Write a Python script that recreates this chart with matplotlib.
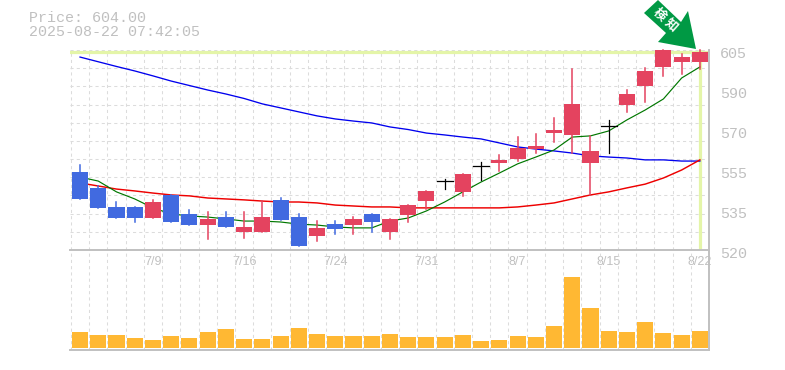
import matplotlib
matplotlib.use('Agg')
import matplotlib.pyplot as plt
from matplotlib.patches import Polygon, Rectangle
from matplotlib.ticker import FixedLocator

# daily candles, oldest first
opens = [553.2, 546.4, 538.3, 538.3, 533.6, 543.4, 535.3, 530.6, 534.0, 527.6, 527.6, 541.3,
         534.0, 526.0, 531.0, 530.6, 535.3, 527.6, 534.9, 540.8, 549.3, 544.7, 555.3, 557.0,
         558.7, 562.9, 569.7, 568.9, 557.0, 572.3, 581.6, 589.7, 597.8, 599.9, 599.9]
highs = [556.1, 547.2, 540.4, 538.3, 541.3, 543.4, 537.0, 536.2, 536.2, 536.2, 540.8, 542.1,
         535.3, 532.3, 532.3, 534.0, 535.3, 533.2, 539.1, 545.1, 550.2, 552.3, 557.4, 560.4,
         568.0, 569.3, 576.1, 596.9, 568.5, 575.3, 588.0, 597.4, 605.0, 603.3, 605.0]
lows = [541.7, 537.9, 533.6, 531.9, 533.6, 531.9, 530.6, 524.7, 529.8, 525.0, 527.6, 532.8,
        521.7, 523.8, 526.8, 526.8, 527.7, 524.7, 531.9, 537.4, 545.9, 543.0, 549.9, 553.6,
        557.8, 561.2, 565.9, 561.2, 543.4, 561.2, 578.6, 582.9, 594.0, 594.8, 596.9]
closes = [541.7, 537.9, 533.6, 533.6, 540.4, 531.9, 530.6, 533.2, 529.8, 529.8, 534.0, 532.8,
          521.7, 529.4, 528.9, 533.2, 531.9, 533.2, 539.1, 545.1, 549.5, 552.3, 555.5, 558.3,
          563.4, 564.2, 571.0, 582.0, 562.1, 572.5, 586.3, 596.1, 605.0, 602.0, 604.15]
dojis = [20, 22, 29]

volumes = [16, 13, 13, 10, 8, 12, 10, 16, 19, 9, 9, 12, 20, 14, 12, 12, 12, 14,
           11, 11, 11, 13, 7, 8, 12, 11, 22, 71, 40, 17, 16, 26, 15, 13, 17]

ma_short = [551.0, 549.3, 544.7, 541.7, 537.9, 535.3, 534.5, 534.0, 533.2, 532.3, 532.3, 531.9,
            531.0, 530.6, 529.8, 529.4, 529.4, 532.3, 533.6, 536.6, 540.4, 544.7, 548.9, 552.7,
            556.6, 559.5, 562.5, 568.0, 568.5, 570.6, 575.3, 579.5, 584.2, 593.1, 597.8]
ma_mid = [548.5, 547.2, 545.9, 545.1, 544.2, 543.4, 543.0, 542.1, 541.7, 541.3, 540.8, 540.4,
          540.4, 540.0, 539.1, 538.7, 538.3, 538.3, 537.9, 537.9, 537.9, 537.9, 537.9, 537.9,
          538.3, 539.1, 540.0, 541.7, 543.4, 544.7, 546.4, 548.0, 550.6, 554.0, 558.3]
ma_long = [602.0, 600.0, 598.0, 596.1, 594.0, 591.8, 589.9, 588.0, 586.3, 584.4, 582.1, 580.4,
           578.7, 577.0, 575.7, 574.8, 574.0, 572.3, 571.2, 569.7, 568.9, 568.0, 567.2, 565.5,
           563.8, 562.9, 562.1, 561.2, 560.0, 559.5, 559.1, 558.3, 558.3, 557.8, 557.8]

date_pos = [4, 9, 14, 19, 24, 29, 34]
date_labels = ['7/9', '7/16', '7/24', '7/31', '8/7', '8/15', '8/22']
price_pos = [605, 588, 571, 554, 537, 520]
price_labels = ['605', '590', '570', '555', '535', '520']
last_price = 604

RED = '#e4435f'
BLUE = '#416ae0'
GREY = '#c0c0c0'
GRID = '#dcdcdc'
BAND = '#e4f5a8'
W, H = 785, 370

fig = plt.figure(figsize=(W / 100, H / 100), dpi=100)
ax = fig.add_axes([70 / W, 1 - 250 / H, 639 / W, 200 / H])
vol = fig.add_axes([70 / W, 1 - 350 / H, 639 / W, 100 / H], sharex=ax)
vol.patch.set_visible(False)

n = len(closes)
ax.set_xlim(-0.55, n - 0.5)
ax.set_ylim(520, 605)
vol.set_ylim(-2, 98)

grid_x = [i - 0.5 for i in range(n + 1)]
grid_y = [520 + 85 * k / 11 for k in range(12)]
for a in (ax, vol):
    a.xaxis.set_major_locator(FixedLocator(grid_x))
    a.set_yticks([])
    a.tick_params(length=0, labelbottom=False, labelleft=False)
    a.grid(True, axis='x', color=GRID, lw=0.75, ls=(0, (3, 3)))
    a.set_axisbelow(True)
    for s in a.spines.values():
        s.set_visible(False)
ax.yaxis.set_major_locator(FixedLocator(grid_y))
ax.grid(True, axis='y', color=GRID, lw=0.75, ls=(0, (3, 3)))

# solid frame lines, the left and top sides stay dashed
for a in (ax, vol):
    for side in ('bottom', 'right'):
        a.spines[side].set_visible(True)
        a.spines[side].set_color(GREY)
        a.spines[side].set_linewidth(1.4)

# current price and date markers
ax.axhline(last_price, color=BAND, lw=2.3, zorder=1)
ax.plot([n - 1, n - 1], [520.5, 605], color=BAND, lw=2.3, zorder=1)

ax.plot(range(n), ma_long, color='#0000ee', lw=0.95, zorder=2)
ax.plot(range(n), ma_mid, color='#ee0000', lw=1.05, zorder=2)
ax.plot(range(n), ma_short, color='#007700', lw=0.85, zorder=2)

for i in range(n):
    if i in dojis:
        ax.plot([i, i], [lows[i], highs[i]], color='black', lw=0.9, zorder=4)
        ax.plot([i - 0.44, i + 0.44], [closes[i], closes[i]], color='black', lw=0.9, zorder=4)
        continue
    col = RED if closes[i] > opens[i] else BLUE
    ax.plot([i, i], [lows[i], highs[i]], color=col, lw=1.1, zorder=3, clip_on=False)
    ax.add_patch(Rectangle((i - 0.44, min(opens[i], closes[i])), 0.88, abs(closes[i] - opens[i]),
                           facecolor=col, edgecolor='none', zorder=3))

vol.bar(range(n), volumes, width=0.88, color='#ffb833', zorder=3)

for pos, lab in zip(price_pos, price_labels):
    ax.annotate(lab, xy=(1, pos), xycoords=('axes fraction', 'data'), xytext=(11, -3.5),
                textcoords='offset pixels', ha='left', va='center', color=GREY,
                fontsize=10.8, family='Liberation Mono', annotation_clip=False)
for pos, lab in zip(date_pos, date_labels):
    ax.annotate(lab, xy=(pos, 520), xycoords='data', xytext=(0, -12),
                textcoords='offset pixels', ha='center', va='center', color=GREY,
                fontsize=9, family='Liberation Sans', annotation_clip=False)

fig.text(29 / W, 1 - 18 / H, 'Price: 604.00', color=GREY, fontsize=10.8,
         family='Liberation Mono', va='center')
fig.text(29 / W, 1 - 32.5 / H, '2025-08-22 07:42:05', color=GREY, fontsize=10.8,
         family='Liberation Mono', va='center')

# arrow badge over the last candle
arrow = [(644, 13), (658, 0), (681, 22), (688, 11), (696, 49), (658, 42), (666, 33)]
fig.add_artist(Polygon([(x / W, 1 - y / H) for x, y in arrow], closed=True,
                       transform=fig.transFigure, facecolor='#009944', edgecolor='none', zorder=5))
fig.text(666 / W, 1 - 20 / H, '検 知', color='white', fontsize=9, rotation=-42, ha='center',
         va='center', fontweight='bold', family=['Noto Sans CJK JP', 'DejaVu Sans'], zorder=6)

fig.savefig('out.png', dpi=100)
